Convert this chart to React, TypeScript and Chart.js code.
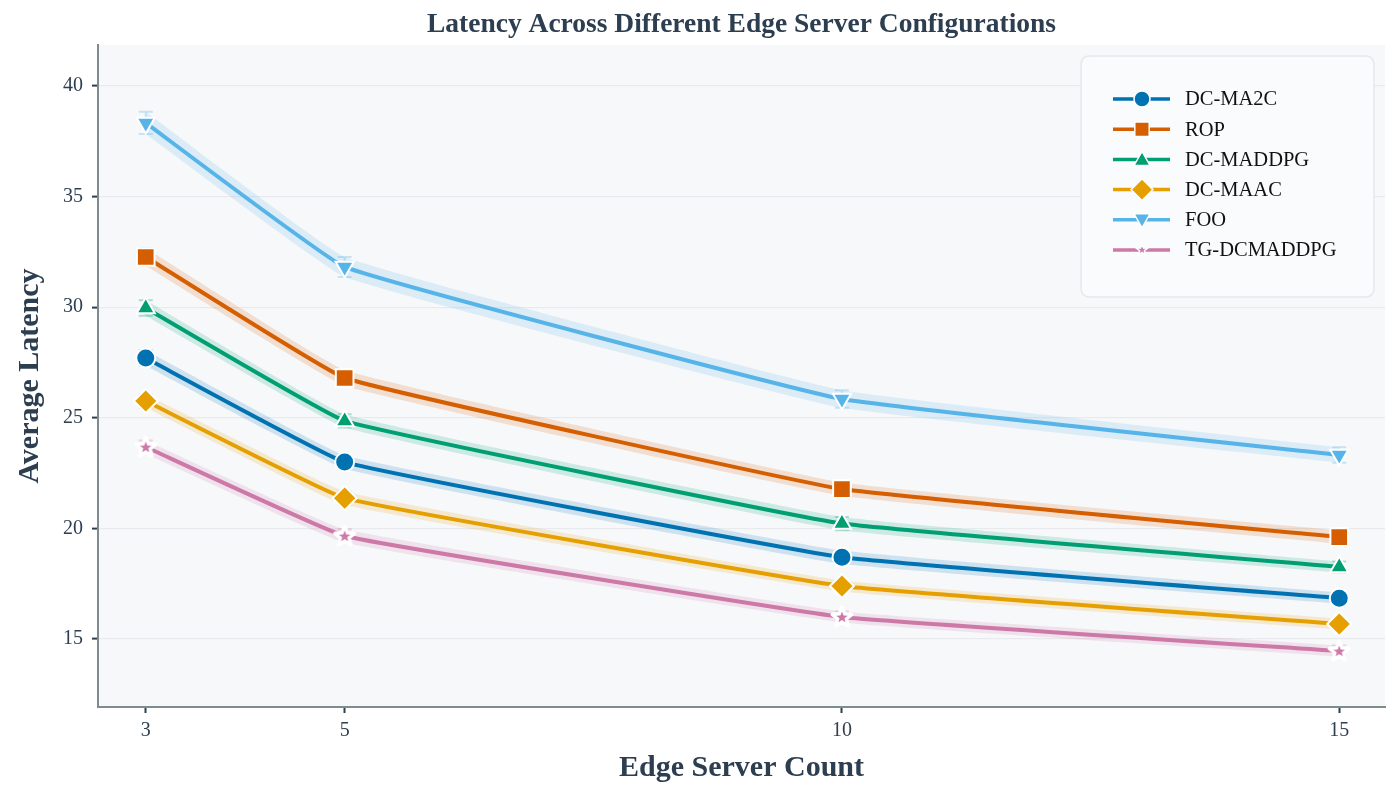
import React, { useEffect, useRef } from "react";
import { Chart, registerables } from "chart.js";

Chart.register(...registerables);

const xValues = [3, 5, 10, 15];
const xTicks = [3, 5, 10, 15];
const yTicks = [15, 20, 25, 30, 35, 40];

const seriesNames = ["DC-MA2C", "ROP", "DC-MADDPG", "DC-MAAC", "FOO", "TG-DCMADDPG"];
const dcMa2c = [27.7, 23.0, 18.7, 16.85];
const rop = [32.27, 26.8, 21.78, 19.61];
const dcMaddpg = [29.96, 24.86, 20.22, 18.26];
const dcMaac = [25.76, 21.37, 17.4, 15.68];
const foo = [38.33, 31.82, 25.85, 23.32];
const tgDcmaddpg = [23.68, 19.66, 16.0, 14.46];

const dcMa2cStd = [0.35, 0.3, 0.3, 0.25];
const ropStd = [0.4, 0.35, 0.3, 0.3];
const dcMaddpgStd = [0.35, 0.3, 0.3, 0.25];
const dcMaacStd = [0.3, 0.3, 0.25, 0.25];
const fooStd = [0.5, 0.45, 0.4, 0.35];
const tgDcmaddpgStd = [0.3, 0.3, 0.25, 0.25];

const seriesValues = [dcMa2c, rop, dcMaddpg, dcMaac, foo, tgDcmaddpg];
const seriesStd = [dcMa2cStd, ropStd, dcMaddpgStd, dcMaacStd, fooStd, tgDcmaddpgStd];
const seriesColors = ["#0072B2", "#D55E00", "#009E73", "#E69F00", "#56B4E9", "#CC79A7"];
const seriesMarkers = ["circle", "rect", "triangle", "rectRot", "triangleDown", "star"];

const FONT = "'Liberation Serif', 'Times New Roman', serif";
const TEXT = "#2c3e50";

function hexA(hex: string, a: number) {
  const n = parseInt(hex.slice(1), 16);
  return `rgba(${(n >> 16) & 255},${(n >> 8) & 255},${n & 255},${a})`;
}

function starPath(ctx: CanvasRenderingContext2D, cx: number, cy: number, ro: number, ri: number) {
  ctx.beginPath();
  for (let i = 0; i < 10; i++) {
    const r = i % 2 === 0 ? ro : ri;
    const a = -Math.PI / 2 + (i * Math.PI) / 5;
    const x = cx + r * Math.cos(a);
    const y = cy + r * Math.sin(a);
    if (i === 0) ctx.moveTo(x, y);
    else ctx.lineTo(x, y);
  }
  ctx.closePath();
}

function makeStarCanvas(color: string, ro: number) {
  const s = Math.ceil(ro * 2 + 6);
  const c = document.createElement("canvas");
  c.width = s;
  c.height = s;
  const ctx = c.getContext("2d")!;
  starPath(ctx, s / 2, s / 2 + 0.5, ro, ro * 0.42);
  ctx.strokeStyle = "#ffffff";
  ctx.lineWidth = 4;
  ctx.lineJoin = "round";
  ctx.stroke();
  starPath(ctx, s / 2, s / 2 + 0.5, ro * 0.6, ro * 0.26);
  ctx.fillStyle = color;
  ctx.fill();
  return c;
}

function drawMarker(ctx: CanvasRenderingContext2D, kind: string, x: number, y: number, r: number, color: string) {
  ctx.save();
  ctx.fillStyle = color;
  ctx.strokeStyle = "#ffffff";
  ctx.lineWidth = 1.5;
  ctx.beginPath();
  if (kind === "circle") {
    ctx.arc(x, y, r, 0, Math.PI * 2);
  } else if (kind === "rect") {
    ctx.rect(x - r * 0.9, y - r * 0.9, r * 1.8, r * 1.8);
  } else if (kind === "triangle") {
    ctx.moveTo(x, y - r);
    ctx.lineTo(x + r, y + r * 0.75);
    ctx.lineTo(x - r, y + r * 0.75);
    ctx.closePath();
  } else if (kind === "triangleDown") {
    ctx.moveTo(x, y + r);
    ctx.lineTo(x + r, y - r * 0.75);
    ctx.lineTo(x - r, y - r * 0.75);
    ctx.closePath();
  } else if (kind === "rectRot") {
    ctx.moveTo(x, y - r);
    ctx.lineTo(x + r, y);
    ctx.lineTo(x, y + r);
    ctx.lineTo(x - r, y);
    ctx.closePath();
  } else if (kind === "star") {
    starPath(ctx, x, y, r, r * 0.42);
  }
  ctx.fill();
  ctx.stroke();
  ctx.restore();
}

function roundRect(ctx: CanvasRenderingContext2D, x: number, y: number, w: number, h: number, r: number) {
  ctx.beginPath();
  ctx.moveTo(x + r, y);
  ctx.lineTo(x + w - r, y);
  ctx.quadraticCurveTo(x + w, y, x + w, y + r);
  ctx.lineTo(x + w, y + h - r);
  ctx.quadraticCurveTo(x + w, y + h, x + w - r, y + h);
  ctx.lineTo(x + r, y + h);
  ctx.quadraticCurveTo(x, y + h, x, y + h - r);
  ctx.lineTo(x, y + r);
  ctx.quadraticCurveTo(x, y, x + r, y);
  ctx.closePath();
}

export default function App() {
  const ref = useRef<HTMLCanvasElement | null>(null);

  useEffect(() => {
    if (!ref.current) return;
    const datasets: any[] = [];
    const TENSION = 0.08;
    seriesNames.forEach((name, i) => {
      const color = seriesColors[i];
      const vals = seriesValues[i];
      const std = seriesStd[i];
      datasets.push({
        label: name + " lower",
        data: xValues.map((x, j) => ({ x, y: vals[j] - std[j] })),
        borderColor: "transparent",
        borderWidth: 0,
        pointRadius: 0,
        fill: false,
        tension: TENSION,
        order: 10,
      });
      datasets.push({
        label: name + " upper",
        data: xValues.map((x, j) => ({ x, y: vals[j] + std[j] })),
        borderColor: "transparent",
        borderWidth: 0,
        pointRadius: 0,
        fill: "-1",
        backgroundColor: hexA(color, 0.17),
        tension: TENSION,
        order: 10,
      });
    });
    seriesNames.forEach((name, i) => {
      const color = seriesColors[i];
      const m = seriesMarkers[i];
      let pointStyle: any = m;
      let rotation = 0;
      let radius = 9.5;
      if (m === "triangleDown") {
        pointStyle = "triangle";
        rotation = 180;
        radius = 10.5;
      } else if (m === "triangle") {
        radius = 10.5;
      } else if (m === "rect") {
        radius = 12.5;
      } else if (m === "rectRot") {
        radius = 12;
      } else if (m === "star") {
        pointStyle = makeStarCanvas(color, 10);
      }
      datasets.push({
        label: name,
        data: xValues.map((x, j) => ({ x, y: seriesValues[i][j] })),
        borderColor: color,
        backgroundColor: color,
        borderWidth: 4,
        pointStyle,
        pointRotation: rotation,
        pointRadius: radius,
        pointBackgroundColor: color,
        pointBorderColor: "#ffffff",
        pointBorderWidth: 2,
        fill: false,
        tension: TENSION,
        order: 1,
      });
    });

    const bgPlugin = {
      id: "bg",
      beforeDraw(chart: any) {
        const { ctx, chartArea: a } = chart;
        ctx.save();
        ctx.fillStyle = "#f7f8fa";
        ctx.fillRect(a.left, a.top, a.right - a.left, a.bottom - a.top);
        ctx.restore();
      },
    };

    const errPlugin = {
      id: "err",
      beforeDatasetsDraw(chart: any) {
        const { ctx } = chart;
        const xs = chart.scales.x;
        const ys = chart.scales.y;
        ctx.save();
        seriesNames.forEach((_, i) => {
          ctx.strokeStyle = hexA(seriesColors[i], 0.3);
          ctx.lineWidth = 2;
          xValues.forEach((x, j) => {
            const px = xs.getPixelForValue(x);
            const y1 = ys.getPixelForValue(seriesValues[i][j] - seriesStd[i][j]);
            const y2 = ys.getPixelForValue(seriesValues[i][j] + seriesStd[i][j]);
            ctx.beginPath();
            ctx.moveTo(px, y1);
            ctx.lineTo(px, y2);
            ctx.moveTo(px - 7, y1);
            ctx.lineTo(px + 7, y1);
            ctx.moveTo(px - 7, y2);
            ctx.lineTo(px + 7, y2);
            ctx.stroke();
          });
        });
        ctx.restore();
      },
    };

    const decoPlugin = {
      id: "deco",
      afterDraw(chart: any) {
        const { ctx, chartArea: a } = chart;
        ctx.save();
        ctx.fillStyle = TEXT;
        ctx.font = `bold 27.5px ${FONT}`;
        ctx.textAlign = "center";
        ctx.textBaseline = "middle";
        ctx.fillText("Latency Across Different Edge Server Configurations", (a.left + a.right) / 2, 25);
        const lx = 1081, ly = 56, lw = 293, lh = 241;
        roundRect(ctx, lx, ly, lw, lh, 9);
        ctx.fillStyle = "rgba(250,251,252,0.92)";
        ctx.fill();
        ctx.strokeStyle = "#e6e8eb";
        ctx.lineWidth = 1.5;
        ctx.stroke();
        seriesNames.forEach((name, i) => {
          const y = 99 + i * 30.2;
          const color = seriesColors[i];
          ctx.strokeStyle = color;
          ctx.lineWidth = 3.5;
          ctx.beginPath();
          ctx.moveTo(1113, y);
          ctx.lineTo(1170, y);
          ctx.stroke();
          const m = seriesMarkers[i];
          const r = m === "rectRot" ? 11 : m === "star" ? 6 : 8;
          drawMarker(ctx, m, 1142, y, r, color);
          ctx.fillStyle = "#111111";
          ctx.font = `20.5px ${FONT}`;
          ctx.textAlign = "left";
          ctx.textBaseline = "middle";
          ctx.fillText(name, 1185, y + 1);
        });
        ctx.restore();
      },
    };

    const chart = new Chart(ref.current, {
      type: "line",
      data: { datasets },
      plugins: [bgPlugin, errPlugin, decoPlugin],
      options: {
        animation: false,
        responsive: false,
        maintainAspectRatio: false,
        layout: { padding: { top: 45, right: 15, left: 0, bottom: 0 } },
        plugins: {
          legend: { display: false },
          title: { display: false },
          tooltip: { enabled: false },
        },
        scales: {
          x: {
            type: "linear",
            min: 2.52,
            max: 15.46,
            afterBuildTicks: (axis: any) => {
              axis.ticks = xTicks.map((v) => ({ value: v }));
            },
            afterFit: (axis: any) => {
              axis.height = 93;
            },
            ticks: {
              color: TEXT,
              font: { family: FONT, size: 20 },
              padding: 6,
              maxRotation: 0,
              callback: (v: any) => String(v),
            },
            grid: {
              display: true,
              color: "transparent",
              drawOnChartArea: false,
              tickColor: TEXT,
              tickLength: 6,
              tickWidth: 2,
            },
            border: { display: true, color: "#7f8c8d", width: 2 },
            title: {
              display: true,
              text: "Edge Server Count",
              color: TEXT,
              font: { family: FONT, size: 30, weight: "bold" },
              padding: { top: 0, bottom: 14 },
            },
          },
          y: {
            type: "linear",
            min: 11.93,
            max: 41.85,
            afterBuildTicks: (axis: any) => {
              axis.ticks = yTicks.map((v) => ({ value: v }));
            },
            afterFit: (axis: any) => {
              axis.width = 98;
            },
            ticks: {
              color: TEXT,
              font: { family: FONT, size: 20 },
              padding: 9,
              callback: (v: any) => String(v),
            },
            grid: {
              display: true,
              color: "#e8eaed",
              lineWidth: 1.2,
              tickColor: TEXT,
              tickLength: 6,
              tickWidth: 2,
            },
            border: { display: true, color: "#7f8c8d", width: 2 },
            title: {
              display: true,
              text: "Average Latency",
              color: TEXT,
              font: { family: FONT, size: 30, weight: "bold" },
              padding: { top: 12, bottom: 0 },
            },
          },
        },
      } as any,
    });
    return () => chart.destroy();
  }, []);

  return (
    <div style={{ position: "absolute", left: 0, top: 0, width: 1400, height: 800, background: "#ffffff" }}>
      <canvas ref={ref} width={1400} height={800} style={{ width: 1400, height: 800, display: "block" }} />
    </div>
  );
}
